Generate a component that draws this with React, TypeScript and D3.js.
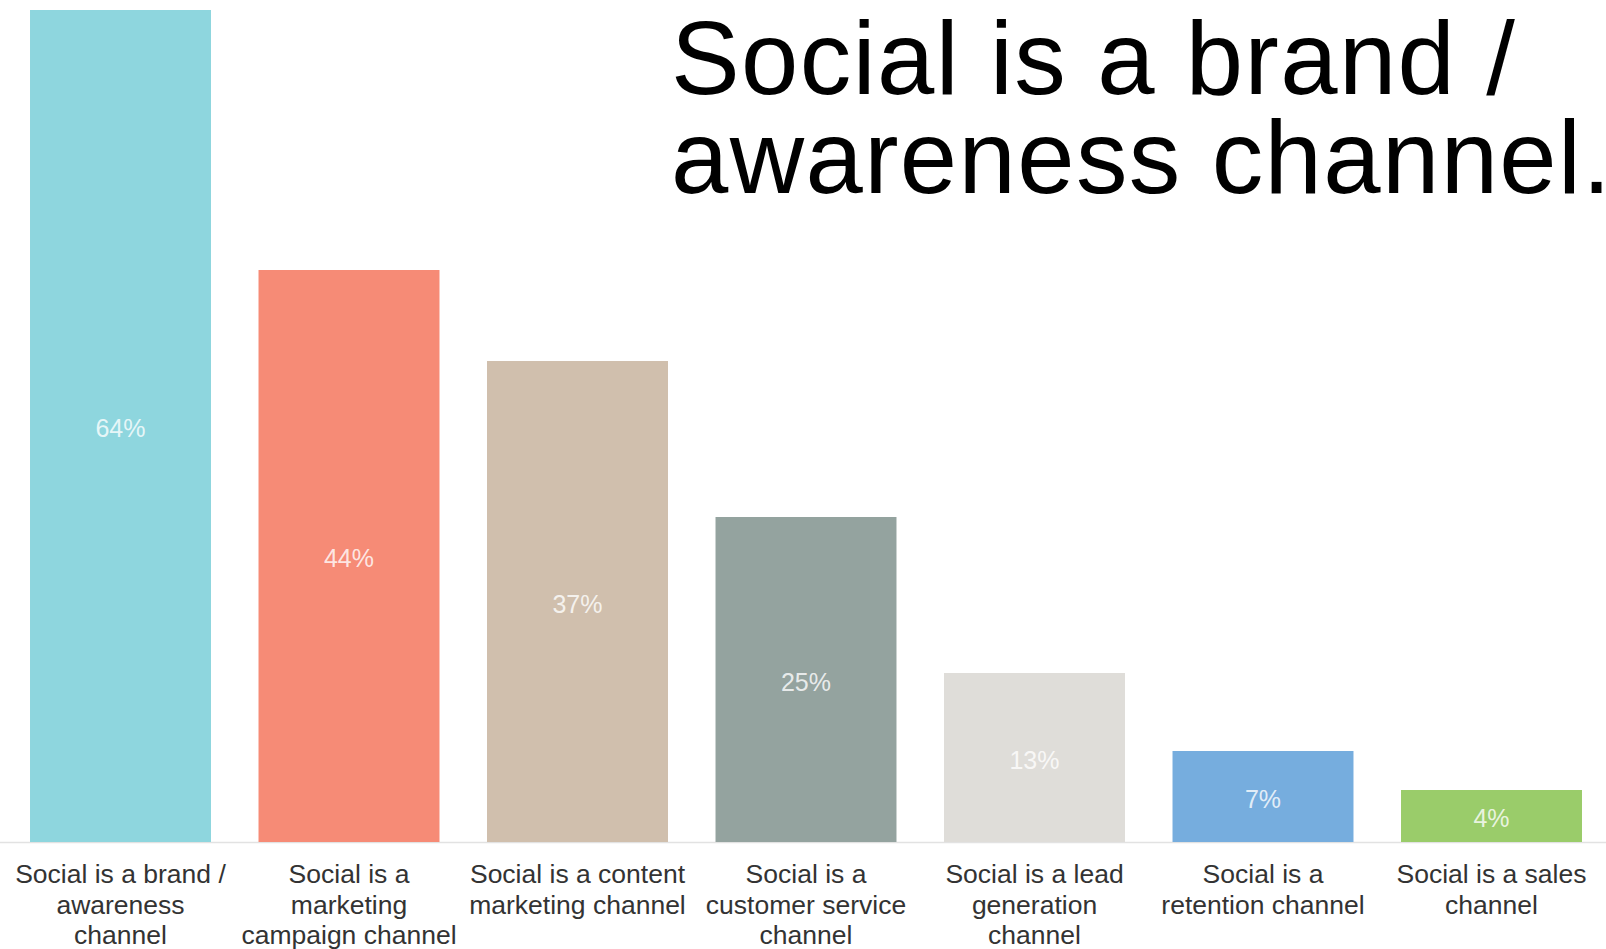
import React from "react";
import * as d3 from "d3";

const categories: string[][] = [
  ["Social is a brand /", "awareness", "channel"],
  ["Social is a", "marketing", "campaign channel"],
  ["Social is a content", "marketing channel"],
  ["Social is a", "customer service", "channel"],
  ["Social is a lead", "generation", "channel"],
  ["Social is a", "retention channel"],
  ["Social is a sales", "channel"],
];
const values: number[] = [64, 44, 37, 25, 13, 7, 4];
const valueLabels: string[] = ["64%", "44%", "37%", "25%", "13%", "7%", "4%"];
const colors: string[] = ["#8ED6DE", "#F68B76", "#D0BFAD", "#94A39F", "#DFDDD9", "#76ADDE", "#9ACC6A"];
const titleLines: string[] = ["Social is a brand /", "awareness channel."];

const W = 1606;
const H = 949;
const baseY = 842;
const topY = 10;

export default function App() {
  const x = d3
    .scaleBand<number>()
    .domain(values.map((_, i) => i))
    .range([6.25, 1605.75])
    .paddingInner(0.208)
    .paddingOuter(0.104);
  const y = d3.scaleLinear().domain([0, 64]).range([baseY, topY]);
  const font = "'Liberation Sans', Arial, Helvetica, sans-serif";

  return (
    <svg
      width={W}
      height={H}
      viewBox={`0 0 ${W} ${H}`}
      style={{ position: "fixed", left: 0, top: 0, background: "#fff" }}
      fontFamily={font}
    >
      <rect x={0} y={0} width={W} height={H} fill="#fff" />
      <line x1={0} x2={W} y1={baseY + 0.5} y2={baseY + 0.5} stroke="#e2e2e2" strokeWidth={1.5} />
      {values.map((v, i) => {
        const bx = x(i)!;
        const bw = x.bandwidth();
        const by = y(v);
        const bh = baseY - by;
        return (
          <g key={i}>
            <rect x={bx} y={by} width={bw} height={bh} fill={colors[i]} />
            <text
              x={bx + bw / 2}
              y={by + bh / 2 + 2}
              textAnchor="middle"
              dominantBaseline="central"
              fontSize={25}
              fill="#fff"
              fillOpacity={0.8}
            >
              {valueLabels[i]}
            </text>
            <text textAnchor="middle" fontSize={26.5} fill="#333">
              {categories[i].map((line, j) => (
                <tspan key={j} x={bx + bw / 2} y={883 + j * 30.7}>
                  {line}
                </tspan>
              ))}
            </text>
          </g>
        );
      })}
      <text fontSize={103} fill="#000" letterSpacing={1.4}>
        {titleLines.map((line, j) => (
          <tspan key={j} x={671} y={94 + j * 99}>
            {line}
          </tspan>
        ))}
      </text>
    </svg>
  );
}
